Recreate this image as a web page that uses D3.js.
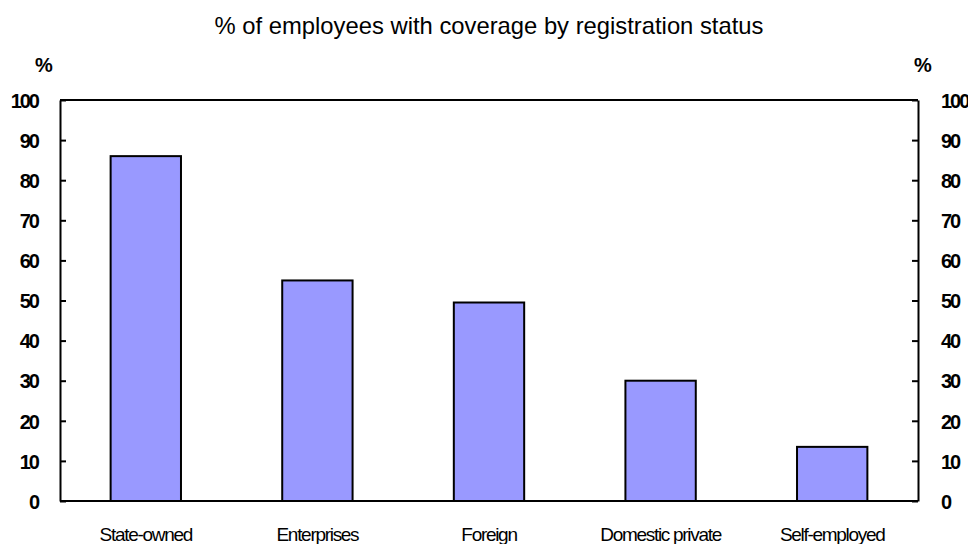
<!DOCTYPE html>
<html><head><meta charset="utf-8">
<script src="https://cdn.jsdelivr.net/npm/d3@7"></script>
<style>body{margin:0;background:#fff}svg{display:block}text{font-family:"Liberation Sans",Arial,sans-serif;fill:#000}</style>
</head><body><svg id="c" width="968" height="544"></svg>
<script>
const categories = ["State-owned","Enterprises","Foreign","Domestic private","Self-employed"];
const values = [86, 55, 49.5, 30, 13.5];
const yTicks = [0,10,20,30,40,50,60,70,80,90,100];
const title = "% of employees with coverage by registration status";

const svg = d3.select("#c");
const L = 60, R = 918, T = 100, B = 501;
const x = d3.scaleBand().domain(categories).range([L, R]).paddingInner(0.59).paddingOuter(0.295);
const y = d3.scaleLinear().domain([0,100]).range([B, T]);

svg.append("text").attr("x", 489).attr("y", 34).attr("text-anchor","middle")
  .style("font-size","23.8px").text(title);

svg.selectAll("rect.bar").data(values).enter().append("rect").attr("class","bar")
  .attr("x",(d,i)=>x(categories[i])).attr("width",x.bandwidth())
  .attr("y",d=>y(d)).attr("height",d=>B-y(d))
  .attr("fill","#9999FF").attr("stroke","#000").attr("stroke-width",2);

const la = svg.append("g").attr("transform",`translate(${L},0)`)
  .call(d3.axisLeft(y).tickValues(yTicks).tickSizeInner(-6).tickSizeOuter(0).tickPadding(22));
const ra = svg.append("g").attr("transform",`translate(${R},0)`)
  .call(d3.axisRight(y).tickValues(yTicks).tickSizeInner(-6).tickSizeOuter(0).tickPadding(23));
[la,ra].forEach(g=>{
  g.selectAll("path,line").attr("stroke","#000").attr("stroke-width",2);
  g.selectAll("text").style("font-size","20px").style("font-weight","bold").style("letter-spacing","-2px")
   .attr("font-family",null).attr("dy","0.36em");
});
svg.append("line").attr("x1",L).attr("x2",R).attr("y1",T).attr("y2",T).attr("stroke","#000").attr("stroke-width",2);
svg.append("line").attr("x1",L).attr("x2",R).attr("y1",B).attr("y2",B).attr("stroke","#000").attr("stroke-width",2);

svg.append("text").attr("x",35).attr("y",72).style("font-size","20px").style("font-weight","bold").text("%");
svg.append("text").attr("x",914).attr("y",72).style("font-size","20px").style("font-weight","bold").text("%");

svg.selectAll("text.cat").data(categories).enter().append("text").attr("class","cat")
  .attr("x",d=>x(d)+x.bandwidth()/2).attr("y",541).attr("text-anchor","middle")
  .style("font-size","19px").style("letter-spacing","-1.3px").text(d=>d);
</script></body></html>
